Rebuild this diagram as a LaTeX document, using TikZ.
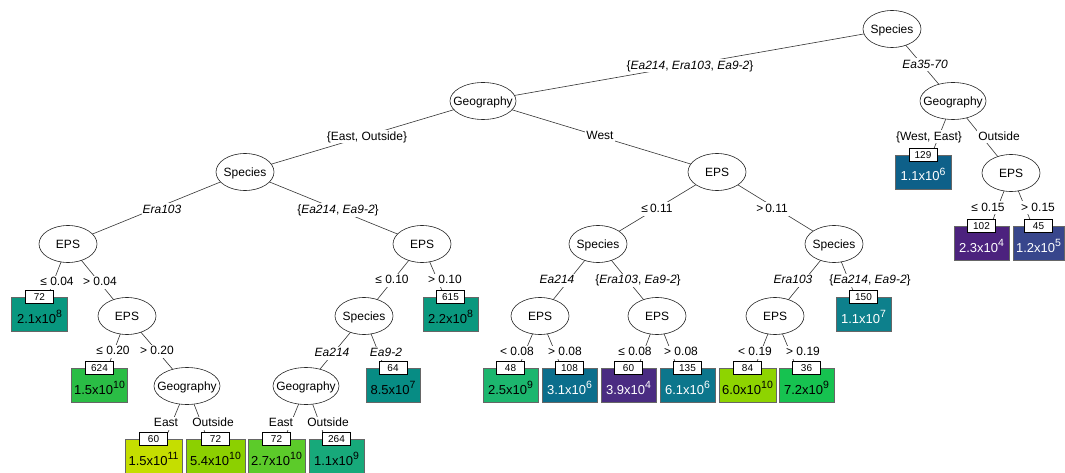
\documentclass[tikz,border=0pt]{standalone}
\usepackage{fontspec}
\setmainfont{Liberation Sans}
\usetikzlibrary{shapes.geometric}
\pgfdeclarelayer{bg}
\pgfsetlayers{bg,main}
\newcommand{\zw}[1]{\makebox[0pt]{#1}}
\newcommand{\sx}[1]{\raisebox{5.5pt}{\fontsize{10.5}{10}\selectfont #1}}
\definecolor{cla}{HTML}{08977F}
\definecolor{clb}{HTML}{2ABD45}
\definecolor{clc}{HTML}{C5DE00}
\definecolor{cld}{HTML}{8CD000}
\definecolor{cle}{HTML}{5CCB2A}
\definecolor{clf}{HTML}{17A97A}
\definecolor{clg}{HTML}{078C84}
\definecolor{clh}{HTML}{0A987E}
\definecolor{cli}{HTML}{1CB66E}
\definecolor{clj}{HTML}{0B6E8C}
\definecolor{clk}{HTML}{4A2C82}
\definecolor{cll}{HTML}{0C768C}
\definecolor{clm}{HTML}{8ED400}
\definecolor{cln}{HTML}{16C250}
\definecolor{clo}{HTML}{0D808C}
\definecolor{clp}{HTML}{4C227E}
\definecolor{clq}{HTML}{38468C}
\definecolor{clr}{HTML}{0E6089}
\begin{document}
\begin{tikzpicture}[x=1pt,y=-1pt,
  dec/.style={ellipse, draw=black!85, line width=0.6pt, fill=white, minimum width=58pt, minimum height=37pt, inner sep=0pt, font=\fontsize{12}{14}\selectfont, text height=8.6pt, text depth=0pt},
  leaf/.style={rectangle, draw=black!60, line width=0.7pt, minimum width=56pt, minimum height=34pt, inner sep=0pt, font=\fontsize{13}{15}\selectfont, text height=18pt, text depth=0pt},
  cnt/.style={rectangle, draw=black, line width=0.7pt, fill=white, minimum width=28pt, minimum height=13pt, inner sep=0pt, font=\fontsize{10}{12}\selectfont, text height=7.2pt, text depth=0pt},
  lbl/.style={fill=white, inner sep=1pt, font=\fontsize{12}{14}\selectfont, text height=8.6pt, text depth=2.4pt},
  edge/.style={draw=black!80, line width=0.6pt}
]
\useasboundingbox (0,0) rectangle (1065,473);

% decision nodes
\node[dec] (n1) at (892,29) {\zw{Species}};
\node[dec, minimum width=66pt] (n2) at (483,101) {\zw{Geography}};
\node[dec] (n3) at (245,172) {\zw{Species}};
\node[dec] (n4) at (68,244) {\zw{EPS}};
\node[dec] (n5) at (127,316) {\zw{EPS}};
\node[dec, minimum width=66pt] (n6) at (187,386) {\zw{Geography}};
\node[dec] (n7) at (422,244) {\zw{EPS}};
\node[dec] (n8) at (364,316) {\zw{Species}};
\node[dec, minimum width=66pt] (n9) at (306,386) {\zw{Geography}};
\node[dec] (n10) at (717,172) {\zw{EPS}};
\node[dec] (n11) at (598,244) {\zw{Species}};
\node[dec] (n12) at (540,316) {\zw{EPS}};
\node[dec] (n13) at (657,316) {\zw{EPS}};
\node[dec] (n14) at (834,244) {\zw{Species}};
\node[dec] (n15) at (775,316) {\zw{EPS}};
\node[dec, minimum width=66pt] (n16) at (953,101) {\zw{Geography}};
\node[dec] (n17) at (1011,173) {\zw{EPS}};

% terminal nodes
\node[leaf, fill=cla] (l1) at (39.5,314) {2.1x10\sx{8}};
\node[leaf, fill=clb] (l2) at (99.5,385) {1.5x10\sx{10}};
\node[leaf, fill=clc, minimum width=57pt] (l3) at (153.5,456) {1.5x10\sx{11}};
\node[leaf, fill=cld, minimum width=59pt] (l4) at (215.5,456) {5.4x10\sx{10}};
\node[leaf, fill=cle, minimum width=57pt] (l5) at (276.5,456) {2.7x10\sx{10}};
\node[leaf, fill=clf, minimum width=55pt] (l6) at (336.5,456) {1.1x10\sx{9}};
\node[leaf, fill=clg, minimum width=54pt] (l7) at (393,385) {8.5x10\sx{7}};
\node[leaf, fill=clh, minimum width=55pt] (l8) at (450.5,314) {2.2x10\sx{8}};
\node[leaf, fill=cli, minimum width=55pt] (l9) at (510.5,385) {2.5x10\sx{9}};
\node[leaf, fill=clj, minimum width=55pt, text=white] (l10) at (569.5,385) {3.1x10\sx{6}};
\node[leaf, fill=clk, minimum width=55pt, text=white] (l11) at (628.5,385) {3.9x10\sx{4}};
\node[leaf, fill=cll, minimum width=55pt, text=white] (l12) at (687.5,385) {6.1x10\sx{6}};
\node[leaf, fill=clm, minimum width=57pt] (l13) at (747.5,385) {6.0x10\sx{10}};
\node[leaf, fill=cln, minimum width=55pt] (l14) at (806.5,385) {7.2x10\sx{9}};
\node[leaf, fill=clo, minimum width=55pt, text=white] (l15) at (863.5,314) {1.1x10\sx{7}};
\node[leaf, fill=clp, minimum width=55pt, text=white] (l16) at (981.5,243) {2.3x10\sx{4}};
\node[leaf, fill=clq, minimum width=51pt, text=white] (l17) at (1038.5,243) {1.2x10\sx{5}};
\node[leaf, fill=clr, minimum width=56pt, text=white] (l18) at (923,172) {1.1x10\sx{6}};

% counts
\node[cnt] (k1) at (l1.north) {72};
\node[cnt] (k2) at (l2.north) {624};
\node[cnt] (k3) at (l3.north) {60};
\node[cnt] (k4) at (l4.north) {72};
\node[cnt] (k5) at (l5.north) {72};
\node[cnt] (k6) at (l6.north) {264};
\node[cnt] (k7) at (l7.north) {64};
\node[cnt] (k8) at (l8.north) {615};
\node[cnt] (k9) at (l9.north) {48};
\node[cnt] (k10) at (l10.north) {108};
\node[cnt] (k11) at (l11.north) {60};
\node[cnt] (k12) at (l12.north) {135};
\node[cnt] (k13) at (l13.north) {84};
\node[cnt] (k14) at (l14.north) {36};
\node[cnt] (k15) at (l15.north) {150};
\node[cnt] (k16) at (l16.north) {102};
\node[cnt] (k17) at (l17.north) {45};
\node[cnt] (k18) at (l18.north) {129};

% attach points of edges on the count boxes
\coordinate (a1) at (50,290.5);
\coordinate (a2) at (110,361.5);
\coordinate (a3) at (168,432.5);
\coordinate (a4) at (205,432.5);
\coordinate (a5) at (287,432.5);
\coordinate (a6) at (323,432.5);
\coordinate (a7) at (382,361.5);
\coordinate (a8) at (442,290.5);
\coordinate (a9) at (521,361.5);
\coordinate (a10) at (559,361.5);
\coordinate (a11) at (640,361.5);
\coordinate (a12) at (675,361.5);
\coordinate (a13) at (757,361.5);
\coordinate (a14) at (794,361.5);
\coordinate (a15) at (853,290.5);
\coordinate (a16) at (993,219.5);
\coordinate (a17) at (1030,219.5);
\coordinate (a18) at (934,148.5);

\begin{pgfonlayer}{bg}
\draw[edge] (n1.center) -- (n2.center) node[lbl] at (690,66) {\{\textit{Ea214}, \textit{Era103}, \textit{Ea9-2}\}};
\draw[edge] (n1.center) -- (n16.center) node[lbl] at (925,65) {\textit{Ea35-70}};
\draw[edge] (n2.center) -- (n3.center) node[lbl] at (367,137) {\{East, Outside\}};
\draw[edge] (n2.center) -- (n10.center) node[lbl] at (600,136) {West};
\draw[edge] (n3.center) -- (n4.center) node[lbl] at (162,210) {\textit{Era103}};
\draw[edge] (n3.center) -- (n7.center) node[lbl] at (338,210) {\{\textit{Ea214}, \textit{Ea9-2}\}};
\draw[edge] (n10.center) -- (n11.center) node[lbl] at (657,209) {≤\,0.11};
\draw[edge] (n10.center) -- (n14.center) node[lbl] at (772,209) {>\,0.11};
\draw[edge] (n16.center) -- (a18) node[lbl] at (929,137) {\{West, East\}};
\draw[edge] (n16.center) -- (n17.center) node[lbl] at (999,137) {Outside};
\draw[edge] (n4.center) -- (a1) node[lbl] at (57,282) {≤ 0.04};
\draw[edge] (n4.center) -- (n5.center) node[lbl] at (100,282) {> 0.04};
\draw[edge] (n5.center) -- (a2) node[lbl] at (113,351) {≤ 0.20};
\draw[edge] (n5.center) -- (n6.center) node[lbl] at (157,351) {> 0.20};
\draw[edge] (n6.center) -- (a3) node[lbl] at (166,423) {East};
\draw[edge] (n6.center) -- (a4) node[lbl] at (213,423) {Outside};
\draw[edge] (n7.center) -- (n8.center) node[lbl] at (392,280) {≤ 0.10};
\draw[edge] (n7.center) -- (a8) node[lbl] at (445,280) {> 0.10};
\draw[edge] (n8.center) -- (n9.center) node[lbl] at (332,353) {\textit{Ea214}};
\draw[edge] (n8.center) -- (a7) node[lbl] at (386,353) {\textit{Ea9-2}};
\draw[edge] (n9.center) -- (a5) node[lbl] at (281,423) {East};
\draw[edge] (n9.center) -- (a6) node[lbl] at (328,423) {Outside};
\draw[edge] (n11.center) -- (n12.center) node[lbl] at (557,280) {\textit{Ea214}};
\draw[edge] (n11.center) -- (n13.center) node[lbl] at (638,280) {\{\textit{Era103}, \textit{Ea9-2}\}};
\draw[edge] (n12.center) -- (a9) node[lbl] at (517,352) {< 0.08};
\draw[edge] (n12.center) -- (a10) node[lbl] at (565,352) {> 0.08};
\draw[edge] (n13.center) -- (a11) node[lbl] at (635,352) {≤ 0.08};
\draw[edge] (n13.center) -- (a12) node[lbl] at (681,352) {> 0.08};
\draw[edge] (n14.center) -- (n15.center) node[lbl] at (793,280) {\textit{Era103}};
\draw[edge] (n14.center) -- (a15) node[lbl] at (870,280) {\{\textit{Ea214}, \textit{Ea9-2}\}};
\draw[edge] (n15.center) -- (a13) node[lbl] at (755,352) {< 0.19};
\draw[edge] (n15.center) -- (a14) node[lbl] at (803,352) {> 0.19};
\draw[edge] (n17.center) -- (a16) node[lbl] at (988,208) {≤ 0.15};
\draw[edge] (n17.center) -- (a17) node[lbl] at (1038,208) {> 0.15};
\end{pgfonlayer}
\end{tikzpicture}
\end{document}
